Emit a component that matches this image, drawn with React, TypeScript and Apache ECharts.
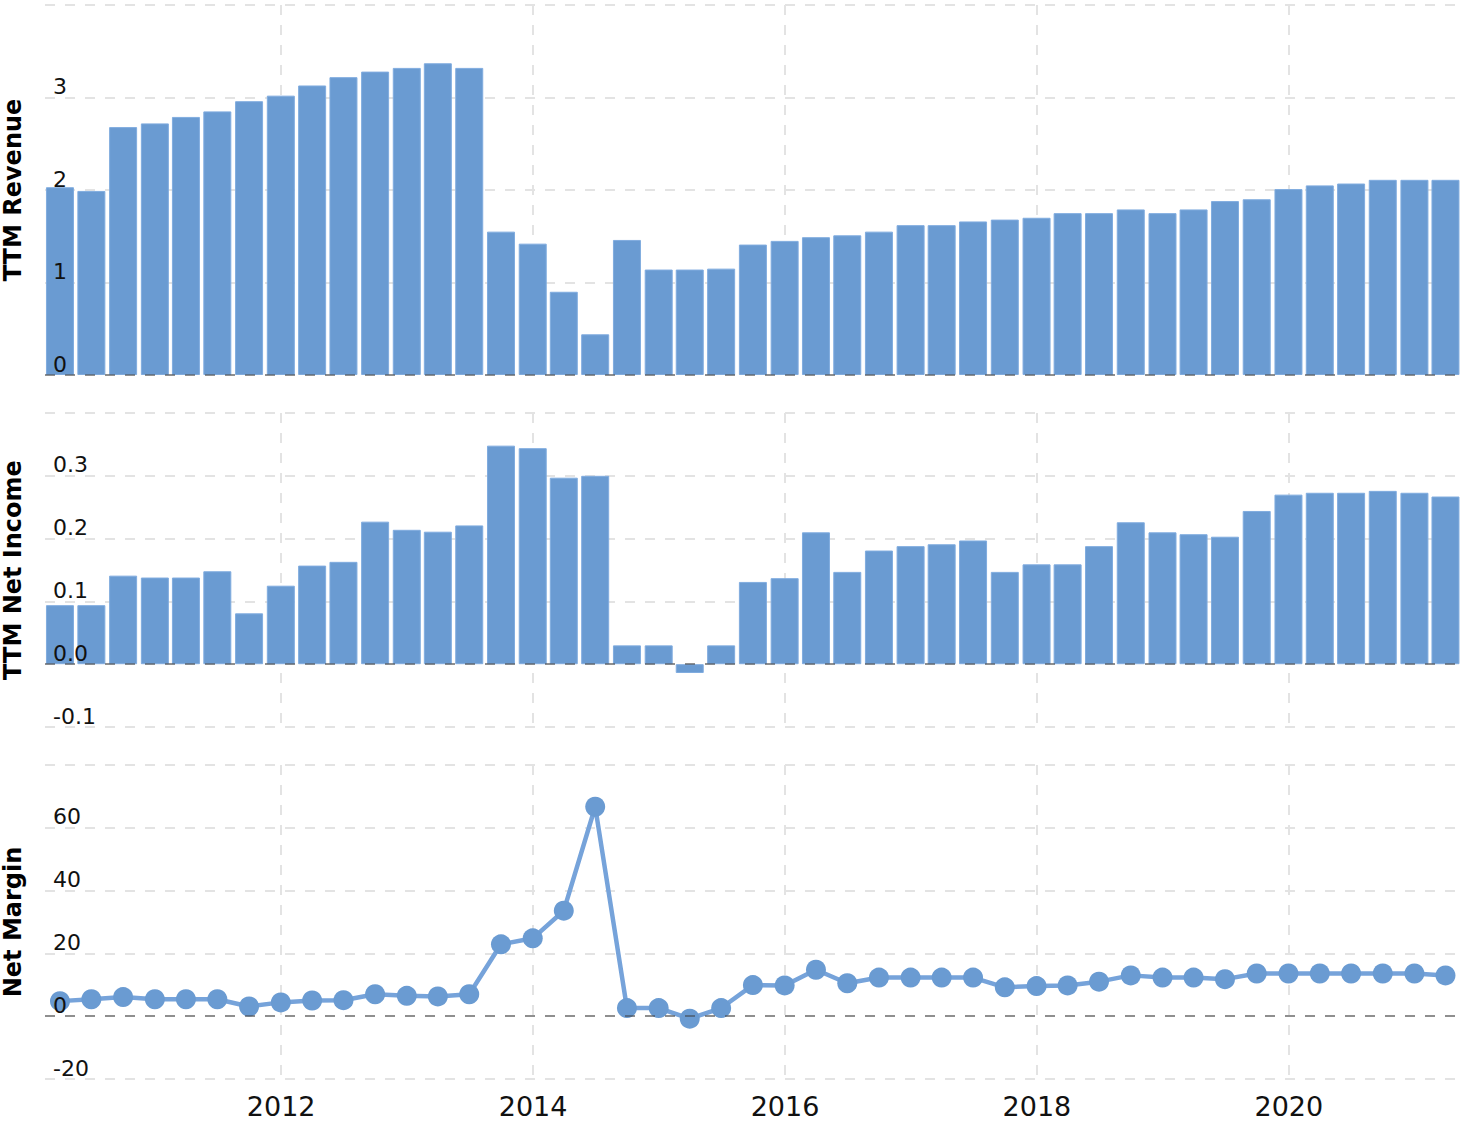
import React, { useEffect, useRef } from "react";
import * as echarts from "echarts";

const quarterDates = [
  "2010-03-31", "2010-06-30", "2010-09-30", "2010-12-31",
  "2011-03-31", "2011-06-30", "2011-09-30", "2011-12-31",
  "2012-03-31", "2012-06-30", "2012-09-30", "2012-12-31",
  "2013-03-31", "2013-06-30", "2013-09-30", "2013-12-31",
  "2014-03-31", "2014-06-30", "2014-09-30", "2014-12-31",
  "2015-03-31", "2015-06-30", "2015-09-30", "2015-12-31",
  "2016-03-31", "2016-06-30", "2016-09-30", "2016-12-31",
  "2017-03-31", "2017-06-30", "2017-09-30", "2017-12-31",
  "2018-03-31", "2018-06-30", "2018-09-30", "2018-12-31",
  "2019-03-31", "2019-06-30", "2019-09-30", "2019-12-31",
  "2020-03-31", "2020-06-30", "2020-09-30", "2020-12-31",
  "2021-03-31",
];

const ttmRevenue = [
  2.03, 1.99, 2.68, 2.72, 2.79, 2.85, 2.96, 3.02,
  3.13, 3.22, 3.28, 3.32, 3.37, 3.32, 1.55, 1.42,
  0.90, 0.44, 1.46, 1.14, 1.14, 1.15, 1.41, 1.45,
  1.49, 1.51, 1.55, 1.62, 1.62, 1.66, 1.68, 1.70,
  1.75, 1.75, 1.79, 1.75, 1.79, 1.88, 1.90, 2.01,
  2.05, 2.07, 2.11, 2.11, 2.11,
];

const ttmNetIncome = [
  0.094, 0.094, 0.141, 0.138, 0.138, 0.148, 0.081, 0.125,
  0.157, 0.163, 0.227, 0.214, 0.211, 0.221, 0.348, 0.344,
  0.297, 0.300, 0.030, 0.030, -0.014, 0.030, 0.131, 0.137,
  0.210, 0.147, 0.181, 0.188, 0.191, 0.197, 0.147, 0.159,
  0.159, 0.188, 0.226, 0.210, 0.207, 0.203, 0.244, 0.270,
  0.273, 0.273, 0.276, 0.273, 0.267,
];

const netMargin = [
  4.8, 5.4, 6.1, 5.4, 5.4, 5.4, 3.1, 4.4,
  5.0, 5.1, 7.0, 6.5, 6.3, 7.0, 22.9, 24.8,
  33.6, 66.7, 2.6, 2.6, -0.8, 2.6, 9.9, 9.8,
  14.8, 10.5, 12.3, 12.3, 12.3, 12.3, 9.2, 9.6,
  9.8, 11.0, 13.0, 12.3, 12.3, 11.8, 13.6, 13.6,
  13.6, 13.6, 13.6, 13.6, 13.0,
];

const yearTicks = [2012, 2014, 2016, 2018, 2020];
const revenueTicks = { min: 0, max: 4, interval: 1 };
const incomeTicks = { min: -0.1, max: 0.4, interval: 0.1 };
const marginTicks = { min: -20, max: 80, interval: 20 };

const FONT = "DejaVu Sans";

function toYearFrac(s: string): number {
  const [y, m, d] = s.split("-").map(Number);
  const start = Date.UTC(y, 0, 1);
  const end = Date.UTC(y + 1, 0, 1);
  return y + (Date.UTC(y, m - 1, d) - start) / (end - start);
}

export default function App() {
  const ref = useRef<HTMLDivElement>(null);

  useEffect(() => {
    if (!ref.current) return;
    const chart = echarts.init(ref.current, undefined, { renderer: "svg" });
    const xs = quarterDates.map(toYearFrac);

    const gridColor = "#e3e3e3";
    const dash = [10, 10];
    const zeroLine = {
      silent: true,
      symbol: "none",
      label: { show: false },
      lineStyle: { color: "rgba(60,60,60,0.5)", type: dash, width: 2 },
      data: [{ yAxis: 0 }],
    };

    const gridBase = { left: 45, right: 6, containLabel: false, outerBoundsMode: "none" };
    const grids = [
      { ...gridBase, top: 5, height: 370 },
      { ...gridBase, top: 413, height: 314 },
      { ...gridBase, top: 765, height: 314 },
    ];

    const xAxes = [0, 1, 2].map((i) => ({
      type: "value",
      gridIndex: i,
      min: 2010.125,
      max: 2021.375,
      axisLine: { show: false },
      axisTick: { show: false, customValues: yearTicks },
      axisLabel: {
        show: i === 2,
        customValues: yearTicks,
        formatter: (v: number) => String(Math.round(v)),
        fontSize: 27,
        fontFamily: FONT,
        color: "#111",
        margin: 14,
      },
      splitLine: { show: true, lineStyle: { color: gridColor, type: dash, width: 2 } },
    }));

    // Background axis: grid lines and axis name (drawn beneath bars)
    const yGridAxis = (i: number, name: string, ticks: any) => ({
      type: "value",
      gridIndex: i,
      min: ticks.min,
      max: ticks.max,
      interval: ticks.interval,
      axisLine: { show: false },
      axisTick: { show: false },
      axisLabel: { show: false },
      splitLine: { show: true, lineStyle: { color: gridColor, type: dash, width: 2 } },
      name,
      nameLocation: "middle",
      nameGap: 20,
      nameTextStyle: { fontWeight: "bold", fontSize: 24, fontFamily: FONT, color: "#000" },
    });

    // Foreground axis: tick labels drawn above bars
    const yLabelAxis = (i: number, ticks: any, fmt: (v: number) => string) => ({
      type: "value",
      gridIndex: i,
      position: "left",
      z: 10,
      min: ticks.min,
      max: ticks.max,
      interval: ticks.interval,
      axisLine: { show: false },
      axisTick: { show: false },
      splitLine: { show: false },
      axisLabel: {
        inside: true,
        margin: 8,
        verticalAlign: "bottom",
        fontSize: 22,
        fontFamily: FONT,
        color: "#111",
        showMaxLabel: false,
        formatter: fmt,
      },
    });

    const barStyle = { color: "#6a9bd2", borderColor: "#80acdf", borderWidth: 1 };

    chart.setOption({
      animation: false,
      grid: grids,
      xAxis: xAxes,
      yAxis: [
        yGridAxis(0, "TTM Revenue", revenueTicks),
        yGridAxis(1, "TTM Net Income", incomeTicks),
        yGridAxis(2, "Net Margin", marginTicks),
        yLabelAxis(0, revenueTicks, (v) => String(v)),
        yLabelAxis(1, incomeTicks, (v) => v.toFixed(1)),
        yLabelAxis(2, marginTicks, (v) => String(v)),
      ],
      series: [
        {
          type: "bar",
          xAxisIndex: 0,
          yAxisIndex: 0,
          barWidth: 28,
          itemStyle: barStyle,
          data: xs.map((x, k) => [x, ttmRevenue[k]]),
          markLine: zeroLine,
        },
        {
          type: "bar",
          xAxisIndex: 1,
          yAxisIndex: 1,
          barWidth: 28,
          itemStyle: barStyle,
          data: xs.map((x, k) => [x, ttmNetIncome[k]]),
          markLine: zeroLine,
        },
        {
          type: "line",
          xAxisIndex: 2,
          yAxisIndex: 2,
          symbol: "circle",
          symbolSize: 20,
          lineStyle: { color: "#76a3da", width: 4.5 },
          itemStyle: { color: "#6a9bd2" },
          data: xs.map((x, k) => [x, netMargin[k]]),
          markLine: zeroLine,
        },
      ],
    });

    return () => chart.dispose();
  }, []);

  return (
    <div
      ref={ref}
      style={{ position: "absolute", left: 0, top: 0, width: 1468, height: 1124 }}
    />
  );
}
